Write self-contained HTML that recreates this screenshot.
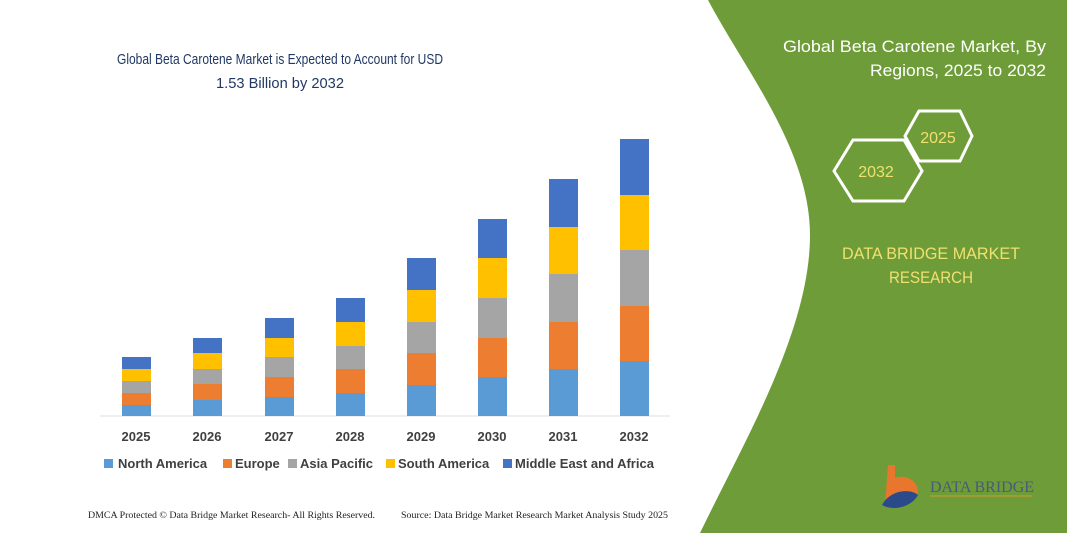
<!DOCTYPE html>
<html><head><style>
body{margin:0;width:1067px;height:533px;overflow:hidden;background:#fff;font-family:"Liberation Sans",sans-serif;}
</style></head><body>
<svg width="1067" height="533" xmlns="http://www.w3.org/2000/svg" style="position:absolute;left:0;top:0">
<rect width="1067" height="533" fill="#fff"/>
<path d="M708,0 L1067,0 L1067,533 L700,533 C745,440 810,330 810,235 C810,150 745,70 708,0 Z" fill="#6e9c38"/>
<text x="280" y="64" text-anchor="middle" font-size="15" fill="#203864" textLength="326" lengthAdjust="spacingAndGlyphs">Global Beta Carotene Market is Expected to Account for USD</text>
<text x="280" y="88" text-anchor="middle" font-size="15" fill="#203864" textLength="128" lengthAdjust="spacingAndGlyphs">1.53 Billion by 2032</text>
<text x="1046" y="52" text-anchor="end" font-size="17" fill="#fff" textLength="263" lengthAdjust="spacingAndGlyphs">Global Beta Carotene Market, By</text>
<text x="1046" y="76" text-anchor="end" font-size="17" fill="#fff" textLength="176" lengthAdjust="spacingAndGlyphs">Regions, 2025 to 2032</text>
<polygon points="853,140 904,140 922,171 904,201 853,201 834,171" fill="none" stroke="#fff" stroke-width="3"/>
<polygon points="919,111 960,111 972,136 960,161 919,161 905,136" fill="none" stroke="#fff" stroke-width="3"/>
<text x="876" y="177" text-anchor="middle" font-size="16" fill="#f0e070">2032</text>
<text x="938" y="143" text-anchor="middle" font-size="16" fill="#f0e070">2025</text>
<text x="931" y="259" text-anchor="middle" font-size="17" fill="#f0e070" textLength="178" lengthAdjust="spacingAndGlyphs">DATA BRIDGE MARKET</text>
<text x="931" y="283" text-anchor="middle" font-size="17" fill="#f0e070" textLength="84" lengthAdjust="spacingAndGlyphs">RESEARCH</text>
<path d="M888,465 L895,465 L895,478 C905,474 918,480 918,492 C915,504 900,510 885,505 Z" fill="#e8762c"/>
<path d="M882,505 C890,490 910,488 918,495 C912,506 895,512 882,505 Z" fill="#2a4a8a"/>
<text x="930" y="492" font-size="16" fill="#4a5a7a" font-family="Liberation Serif,serif">DATA BRIDGE</text>
<line x1="930" y1="496" x2="1032" y2="496" stroke="#c8a030" stroke-width="1"/>
<line x1="100" y1="416" x2="670" y2="416" stroke="#ddd"/>
<g id="bars"></g>
<g font-size="13" font-weight="bold" fill="#404040" text-anchor="middle">
<text x="136" y="441">2025</text><text x="207" y="441">2026</text><text x="279" y="441">2027</text><text x="350" y="441">2028</text><text x="421" y="441">2029</text><text x="492" y="441">2030</text><text x="563" y="441">2031</text><text x="634" y="441">2032</text>
</g>
<g font-size="13" font-weight="bold" fill="#404040">
<rect x="104" y="459" width="9" height="9" fill="#5b9bd5"/><text x="118" y="468">North America</text>
<rect x="223" y="459" width="9" height="9" fill="#ed7d31"/><text x="235" y="468">Europe</text>
<rect x="288" y="459" width="9" height="9" fill="#a5a5a5"/><text x="300" y="468">Asia Pacific</text>
<rect x="386" y="459" width="9" height="9" fill="#ffc000"/><text x="398" y="468">South America</text>
<rect x="503" y="459" width="9" height="9" fill="#4472c4"/><text x="515" y="468">Middle East and Africa</text>
</g>
<text x="88" y="518" font-size="9" fill="#222" font-family="Liberation Serif,serif" textLength="287" lengthAdjust="spacingAndGlyphs">DMCA Protected © Data Bridge Market Research-  All Rights Reserved.</text>
<text x="401" y="518" font-size="9" fill="#222" font-family="Liberation Serif,serif" textLength="267" lengthAdjust="spacingAndGlyphs">Source: Data Bridge Market Research  Market Analysis Study 2025</text>
</svg>
<script>
var xs=[122,193,265,336,407,478,549,620];
var ys=[[357,369,381,393,405],[338,353,369,384,400],[318,338,357,377,397],[298,322,346,369,393],[258,290,322,353,385],[219,258,298,338,377],[179,227,274,322,369],[139,195,250,306,361]];
var cols=["#4472c4","#ffc000","#a5a5a5","#ed7d31","#5b9bd5"];
var g=document.getElementById("bars"),s="";
for(var i=0;i<8;i++){for(var j=0;j<5;j++){var y0=ys[i][j],y1=j<4?ys[i][j+1]:416;s+='<rect x="'+xs[i]+'" y="'+y0+'" width="29" height="'+(y1-y0)+'" fill="'+cols[j]+'"/>';}}
g.innerHTML=s;
</script>
</body></html>
